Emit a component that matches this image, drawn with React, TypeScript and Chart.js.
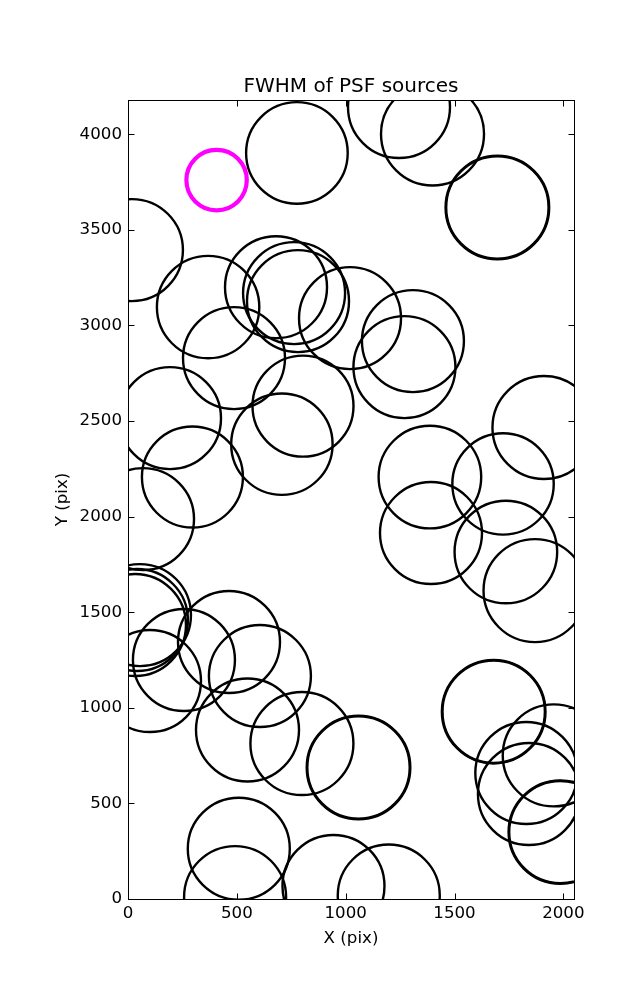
import React, { useEffect, useRef } from 'react';
import { Chart, registerables } from 'chart.js';

Chart.register(...registerables);

// ---- data (image pixel coordinates of detected PSF sources) ----
const srcX = [
  776, 1245, 1399, 1697, 1697, 18, 368, 680, 763, 781,
  1020, 1309, 1270, 487, 193, 804, 707, 296, 69, 1911,
  1387, 1723, 1392, 1736, 1870, 55, 41, 32, 101, 257,
  464, 606, 549, 799, 1059, 1059, 1680, 1680, 1956, 1830,
  1842, 1986, 1986, 509, 492, 944, 1198,
];
const srcY = [
  3902, 4142, 4001, 3617, 3617, 3394, 3096, 3200, 3169, 3127,
  3038, 2918, 2782, 2829, 2515, 2578, 2379, 2207, 1987, 2466,
  2207, 2171, 1914, 1815, 1613, 1485, 1459, 1433, 1140, 1250,
  1344, 1166, 884, 813, 688, 688, 980, 980, 751, 659,
  549, 350, 350, 263, 10, 68, 18,
];
const srcFwhm = [
  5.08, 5.10, 5.15, 5.12, 5.18, 5.10, 5.12, 5.10, 5.10, 5.10,
  5.10, 5.10, 5.10, 5.10, 5.10, 5.05, 5.07, 5.05, 5.10, 5.15,
  5.13, 5.07, 5.10, 5.13, 5.15, 5.10, 5.10, 5.10, 5.10, 5.10,
  5.10, 5.10, 5.15, 5.15, 5.12, 5.18, 5.12, 5.18, 5.10, 5.10,
  5.10, 5.11, 5.17, 5.10, 5.10, 5.10, 5.10,
];
const targetX = [407];
const targetY = [3760];
const targetFwhm = [3.02];

const xTicks = [0, 500, 1000, 1500, 2000];
const yTicks = [0, 500, 1000, 1500, 2000, 2500, 3000, 3500, 4000];
const xMax = 2049;
const yMax = 4179;

const chartTitle = 'FWHM of PSF sources';
const xLabel = 'X (pix)';
const yLabel = 'Y (pix)';

// ---- styling ----
const FONT = "'DejaVu Sans', 'Bitstream Vera Sans', sans-serif";
const PX_PER_FWHM = 10;
const TICK_FONT = { family: FONT, size: 16.67, weight: 'normal' as const, lineHeight: 1.2 };

const framePlugin = {
  id: 'mplFrame',
  afterDraw(chart: any) {
    const { ctx, chartArea } = chart;
    const { left, right, top, bottom } = chartArea;
    const xs = chart.scales.x;
    const ys = chart.scales.y;
    const tl = 6;
    ctx.save();
    ctx.strokeStyle = '#000';
    ctx.lineWidth = 1;
    ctx.strokeRect(left + 0.5, top + 0.5, right - left, bottom - top);
    ctx.beginPath();
    xTicks.forEach((v) => {
      const px = Math.round(xs.getPixelForValue(v)) + 0.5;
      ctx.moveTo(px, bottom + 0.5);
      ctx.lineTo(px, bottom + 0.5 - tl);
      ctx.moveTo(px, top + 0.5);
      ctx.lineTo(px, top + 0.5 + tl);
    });
    yTicks.forEach((v) => {
      const py = Math.round(ys.getPixelForValue(v)) + 0.5;
      ctx.moveTo(left + 0.5, py);
      ctx.lineTo(left + 0.5 + tl, py);
      ctx.moveTo(right + 0.5, py);
      ctx.lineTo(right + 0.5 - tl, py);
    });
    ctx.stroke();
    ctx.restore();
  },
};

export default function App() {
  const canvasRef = useRef<HTMLCanvasElement | null>(null);

  useEffect(() => {
    const canvas = canvasRef.current;
    if (!canvas) return;

    const sources = srcX.map((x, i) => ({ x, y: srcY[i], r: srcFwhm[i] * PX_PER_FWHM }));
    const target = targetX.map((x, i) => ({ x, y: targetY[i], r: targetFwhm[i] * PX_PER_FWHM }));

    const chart = new Chart(canvas, {
      type: 'bubble',
      data: {
        datasets: [
          {
            label: 'target',
            data: target,
            backgroundColor: 'rgba(0,0,0,0)',
            borderColor: '#ff00ff',
            borderWidth: 4.2,
            hoverBorderWidth: 4.2,
            clip: 0,
          } as any,
          {
            label: 'sources',
            data: sources,
            backgroundColor: 'rgba(0,0,0,0)',
            borderColor: '#000000',
            borderWidth: 2.4,
            hoverBorderWidth: 2.4,
            clip: 0,
          } as any,
        ],
      },
      options: {
        responsive: false,
        animation: false,
        devicePixelRatio: 1,
        events: [],
        layout: { padding: { left: 0, right: 63, top: 0, bottom: 0 } },
        plugins: {
          legend: { display: false },
          tooltip: { enabled: false },
          title: {
            display: true,
            text: chartTitle,
            fullSize: false,
            color: '#000',
            font: { family: FONT, size: 20, weight: 'normal', lineHeight: 1.2 },
            padding: { top: 74.4, bottom: 1.6 },
          },
        },
        scales: {
          x: {
            type: 'linear',
            min: 0,
            max: xMax,
            grid: { display: false, drawTicks: false },
            border: { display: false },
            ticks: {
              color: '#000',
              font: TICK_FONT,
              padding: 5,
              maxRotation: 0,
              autoSkip: false,
              callback: (v: any) => String(v),
            },
            afterBuildTicks: (s: any) => {
              s.ticks = xTicks.map((v) => ({ value: v }));
            },
            afterFit: (s: any) => {
              s.height = 101;
            },
            title: {
              display: true,
              text: xLabel,
              color: '#000',
              font: TICK_FONT,
              padding: { top: 0, bottom: 51.5 },
            },
          },
          y: {
            type: 'linear',
            min: 0,
            max: yMax,
            grid: { display: false, drawTicks: false },
            border: { display: false },
            ticks: {
              color: '#000',
              font: TICK_FONT,
              padding: 6,
              autoSkip: false,
              callback: (v: any) => String(v),
            },
            afterBuildTicks: (s: any) => {
              s.ticks = yTicks.map((v) => ({ value: v }));
            },
            afterFit: (s: any) => {
              s.width = 128;
            },
            title: {
              display: true,
              text: yLabel,
              color: '#000',
              font: TICK_FONT,
              padding: { top: 53, bottom: 0 },
            },
          },
        },
      } as any,
      plugins: [framePlugin],
    });

    return () => chart.destroy();
  }, []);

  return (
    <div style={{ position: 'absolute', left: 0, top: 0, width: 637, height: 1000, background: '#fff' }}>
      <canvas ref={canvasRef} width={637} height={1000} />
    </div>
  );
}
